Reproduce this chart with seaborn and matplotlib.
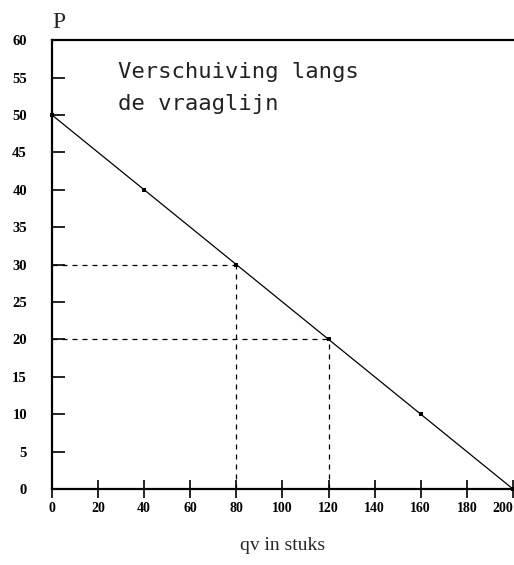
import numpy as np
import pandas as pd
import seaborn as sns
import matplotlib.pyplot as plt

# demand line points
q = [0, 40, 80, 120, 160, 200]
p = [50, 40, 30, 20, 10, 0]

# the two points marked with dashed guides
guide_q = [80, 120]
guide_p = [30, 20]

xticks = list(range(0, 201, 20))
yticks = list(range(0, 61, 5))

sns.set_style('white')
plt.rcParams['font.family'] = ['Liberation Serif', 'DejaVu Serif']

df = pd.DataFrame({'q': q, 'p': p})

fig = plt.figure(figsize=(5.14, 5.65), dpi=100)
ax = fig.add_axes([0.101, 0.1345, 0.897, 0.7945])

sns.lineplot(data=df, x='q', y='p', ax=ax, color='black', linewidth=0.9,
             marker='s', markersize=2.2, markeredgewidth=0, clip_on=False)

for gq, gp in zip(guide_q, guide_p):
    ax.plot([0, gq], [gp, gp], color='black', linewidth=0.9, linestyle=(0, (4, 4)))
    ax.plot([gq, gq], [0, gp], color='black', linewidth=0.9, linestyle=(0, (4, 4)))

ax.set_xlim(0, 200)
ax.set_ylim(0, 60)
ax.set_xticks(xticks)
ax.set_yticks(yticks)
ax.set_xticklabels([str(t) for t in xticks], fontsize=10, fontweight='bold')
ax.set_yticklabels([str(t) for t in yticks], fontsize=10.5, fontweight='bold')
ax.tick_params(axis='y', left=True, direction='in', length=9, width=1.2, pad=18, colors='black')
ax.tick_params(axis='x', bottom=True, direction='inout', length=13, width=1.2, pad=3, colors='black')
# keep the last label inside the figure
ax.get_xticklabels()[-1].set_horizontalalignment('right')
ax.get_xticklabels()[-1].set_x(201)

for s in ['left', 'bottom', 'top']:
    ax.spines[s].set_visible(True)
    ax.spines[s].set_color('black')
    ax.spines[s].set_linewidth(1.6)
ax.spines['right'].set_visible(False)

ax.set_xlabel('qv in stuks', fontsize=14, labelpad=16)
ax.set_ylabel('')
ax.text(0.0, 1.015, 'P', transform=ax.transAxes, fontsize=17, ha='left', va='bottom')

ax.text(0.143, 0.952, 'Verschuiving langs\nde vraaglijn', transform=ax.transAxes,
        family=['DejaVu Sans Mono'], fontsize=16, ha='left', va='top',
        linespacing=1.75, color='#222222')

fig.savefig('out.png', dpi=100)
